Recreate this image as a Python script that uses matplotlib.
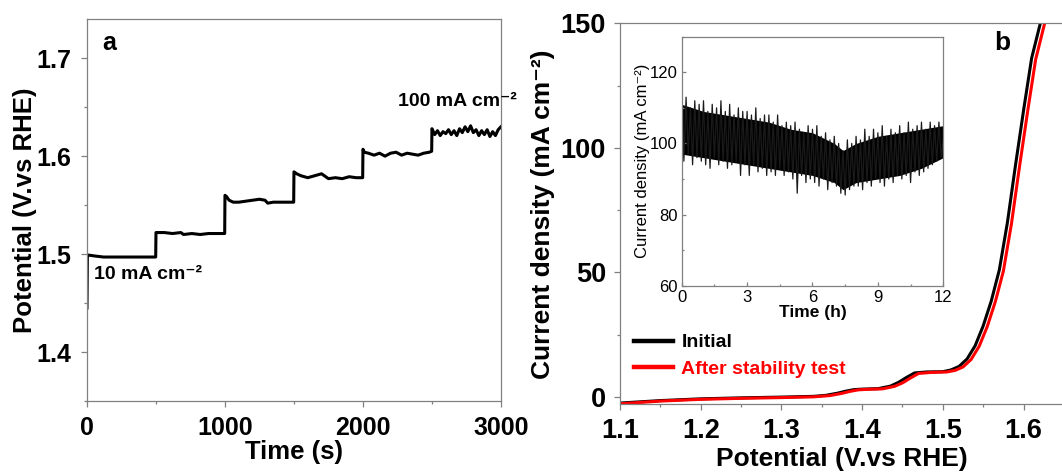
import matplotlib
matplotlib.use("Agg")
import matplotlib.pyplot as plt
from matplotlib.ticker import MultipleLocator
from matplotlib import font_manager

# ---------------- data ----------------
# (a) chronopotentiometry
time_s = [0, 3, 10, 60, 120, 180, 250, 320, 400, 498,
          500, 560, 620, 680, 700, 760, 820, 880, 940, 998,
          1000, 1010, 1030, 1060, 1100, 1150, 1200, 1250, 1290, 1310, 1350, 1400, 1450, 1498,
          1500, 1520, 1550, 1600, 1650, 1700, 1720, 1750, 1800, 1850, 1900, 1950, 1998,
          2000, 2010, 2040, 2080, 2120, 2160, 2200, 2240, 2280, 2320, 2360, 2400, 2440, 2480, 2498,
          2500, 2520, 2540, 2560, 2580, 2600, 2620, 2640, 2660, 2680, 2700, 2720, 2740, 2760,
          2780, 2800, 2820, 2840, 2860, 2880, 2900, 2920, 2940, 2960, 2980, 3000]
potential = [1.445, 1.497, 1.499, 1.498, 1.497, 1.497, 1.497, 1.497, 1.497, 1.497,
             1.522, 1.522, 1.521, 1.522, 1.520, 1.521, 1.520, 1.521, 1.521, 1.521,
             1.560, 1.559, 1.555, 1.553, 1.553, 1.554, 1.555, 1.556, 1.555, 1.552, 1.553, 1.553, 1.553, 1.553,
             1.584, 1.582, 1.580, 1.578, 1.580, 1.582, 1.580, 1.577, 1.578, 1.577, 1.579, 1.578, 1.578,
             1.607, 1.604, 1.603, 1.601, 1.603, 1.600, 1.603, 1.604, 1.601, 1.603, 1.602, 1.601, 1.603, 1.604, 1.605,
             1.628, 1.622, 1.626, 1.621, 1.625, 1.623, 1.627, 1.622, 1.626, 1.621, 1.628, 1.624, 1.630, 1.625,
             1.631, 1.624, 1.627, 1.621, 1.626, 1.622, 1.627, 1.620, 1.625, 1.621, 1.627, 1.630]

# (b) LSV curves
v_initial = [1.10, 1.15, 1.20, 1.25, 1.30, 1.34, 1.355, 1.37, 1.38, 1.39, 1.40, 1.42, 1.435, 1.445,
             1.455, 1.465, 1.48, 1.50, 1.51, 1.52, 1.53, 1.54, 1.55, 1.56, 1.57, 1.58, 1.59, 1.60,
             1.61, 1.62, 1.63]
j_initial = [-2.5, -1.5, -0.8, -0.4, -0.1, 0.2, 0.6, 1.5, 2.3, 2.9, 3.1, 3.3, 4.3, 5.8,
             7.8, 9.6, 10.0, 10.1, 10.8, 12.2, 15.2, 20.5, 28.5, 38.5, 51.0, 70.0, 93.0, 115.0,
             136.0, 149.0, 162.0]
v_after = [1.10, 1.15, 1.20, 1.25, 1.30, 1.34, 1.36, 1.375, 1.385, 1.395, 1.405, 1.425, 1.44, 1.45,
           1.46, 1.47, 1.485, 1.505, 1.515, 1.525, 1.535, 1.545, 1.555, 1.565, 1.575, 1.585, 1.595,
           1.605, 1.615, 1.625, 1.635]
j_after = [-2.8, -1.7, -1.0, -0.6, -0.3, 0.0, 0.5, 1.4, 2.2, 2.8, 3.0, 3.2, 4.2, 5.6,
           7.6, 9.4, 9.8, 10.0, 10.6, 12.0, 15.0, 20.3, 28.2, 38.2, 50.5, 69.5, 92.5,
           114.5, 135.5, 148.5, 161.5]

# inset: stability (current density vs time, 0.1 h steps)
inset_time_h = [i / 10 for i in range(121)]
inset_current = [112, 95, 113, 97, 110, 94, 112, 96, 111, 95,
                 112, 94, 109, 93, 111, 96, 110, 94, 112, 95,
                 109, 93, 111, 94, 108, 95, 110, 91, 109, 94,
                 109, 91, 108, 94, 110, 92, 107, 93, 108, 91,
                 108, 92, 106, 91, 108, 93, 105, 91, 106, 92,
                 105, 90, 106, 86, 104, 91, 103, 89, 105, 90,
                 104, 89, 105, 88, 102, 90, 103, 87, 101, 89,
                 102, 88, 100, 86, 98, 85.5, 101, 87, 100, 88,
                 102, 88, 101, 87, 104, 89, 102, 88, 104, 90,
                 103, 89, 105, 88, 102, 90, 104, 89, 103, 91,
                 105, 90, 103, 91, 106, 89, 104, 92, 105, 91,
                 106, 92, 104, 93, 106, 94, 105, 95, 106, 96,
                 101]
# dense core of the noisy band
band_time_h = [0, 1, 2, 3, 4, 5, 6, 7, 7.4, 8, 9, 10, 11, 12]
band_upper = [111, 109, 108, 107, 106, 104, 103, 100, 98, 100, 102, 103, 104, 105]
band_lower = [97, 96, 95, 94, 93, 92, 91, 89, 87, 89, 90, 91, 93, 96]

# ---------------- style ----------------
names = {f.name for f in font_manager.fontManager.ttflist}
MAIN = "Liberation Sans" if "Liberation Sans" in names else "DejaVu Sans"
plt.rcParams["font.family"] = [MAIN, "DejaVu Sans"]
SPINE = "#808080"
CM2 = "cm\u207b\u00b2"

fig = plt.figure(figsize=(10.62, 4.72), dpi=100)


def style_axes(ax, size, direction="out", weight="bold", pad=6, length=4):
    for s in ax.spines.values():
        s.set_color(SPINE)
        s.set_linewidth(0.9)
    ax.tick_params(which="both", direction=direction, color=SPINE, width=0.9,
                   top=False, right=False)
    ax.tick_params(which="major", length=length, pad=pad)
    ax.tick_params(which="minor", length=length * 0.6)
    for lab in ax.get_xticklabels() + ax.get_yticklabels():
        lab.set_fontsize(size)
        lab.set_fontweight(weight)


# ---- panel a ----
ax1 = fig.add_axes([0.0819, 0.1504, 0.3898, 0.8093])
ax1.plot(time_s, potential, color="black", lw=2.2)
ax1.set_xlim(0, 3000)
ax1.set_ylim(1.35, 1.74)
ax1.xaxis.set_major_locator(MultipleLocator(1000))
ax1.xaxis.set_minor_locator(MultipleLocator(500))
ax1.set_yticks([1.4, 1.5, 1.6, 1.7])
ax1.yaxis.set_minor_locator(MultipleLocator(0.05))
ax1.set_yticklabels(["1.4", "1.5", "1.6", "1.7"])
style_axes(ax1, 18, pad=7)
ax1.set_xlabel("Time (s)", fontsize=18.5, fontweight="bold", labelpad=0)
ax1.set_ylabel("Potential (V.vs RHE)", fontsize=18.5, fontweight="bold", labelpad=0)
ax1.text(0.053, 0.937, "a", transform=ax1.transAxes, fontsize=18, fontweight="bold",
         ha="center", va="center")
ax1.text(50, 1.4795, "10 mA " + CM2, fontsize=14, fontweight="bold", va="center")
ax1.text(2254, 1.656, "100 mA " + CM2, fontsize=14, fontweight="bold", va="center")

# ---- panel b ----
ax2 = fig.add_axes([0.5838, 0.1434, 0.4180, 0.8072])
ax2.plot(v_initial, j_initial, color="black", lw=2.2, label="Initial")
ax2.plot(v_after, j_after, color="#ff0000", lw=2.2, label="After stability test")
ax2.set_xlim(1.1, 1.65)
ax2.set_ylim(-3, 150)
ax2.set_xticks([1.1, 1.2, 1.3, 1.4, 1.5, 1.6])
ax2.xaxis.set_minor_locator(MultipleLocator(0.05))
ax2.set_xticklabels(["1.1", "1.2", "1.3", "1.4", "1.5", "1.6"])
ax2.set_yticks([0, 50, 100, 150])
ax2.yaxis.set_minor_locator(MultipleLocator(25))
ax2.set_yticklabels(["0", "50", "100", "150"])
style_axes(ax2, 19.5, pad=6)
ax2.set_xlabel("Potential (V.vs RHE)", fontsize=19, fontweight="bold", labelpad=2)
ax2.set_ylabel("Current density (mA " + CM2 + ")", fontsize=19, fontweight="bold", labelpad=4)
ax2.text(0.861, 0.948, "b", transform=ax2.transAxes, fontsize=19, fontweight="bold",
         ha="center", va="center")
leg = ax2.legend(loc="upper left", bbox_to_anchor=(0.031, 0.185), frameon=False,
                 prop={"size": 14, "weight": "bold"}, handlelength=2.0, handletextpad=0.45,
                 labelspacing=0.45, borderaxespad=0, borderpad=0)
for line in leg.get_lines():
    line.set_linewidth(3.2)
for txt, col in zip(leg.get_texts(), ["black", "#ff0000"]):
    txt.set_color(col)

# ---- inset ----
ax3 = fig.add_axes([0.6419, 0.3947, 0.2463, 0.5275])
ax3.fill_between(band_time_h, band_lower, band_upper, color="black", lw=0)
ax3.plot(inset_time_h, inset_current, color="#1a1a1a", lw=0.9)
ax3.set_xlim(0, 12)
ax3.set_ylim(60, 130)
ax3.set_xticks([0, 3, 6, 9, 12])
ax3.xaxis.set_minor_locator(MultipleLocator(1.5))
ax3.set_yticks([60, 80, 100, 120])
ax3.yaxis.set_minor_locator(MultipleLocator(10))
ax3.set_yticklabels(["60", "80", "100", "120"])
style_axes(ax3, 12, direction="in", weight="normal", pad=3, length=3)
ax3.set_xlabel("Time (h)", fontsize=12.5, fontweight="bold", labelpad=0)
ax3.set_ylabel("Current density (mA " + CM2 + ")", fontsize=12, labelpad=0)

fig.savefig("out.png", dpi=100)
